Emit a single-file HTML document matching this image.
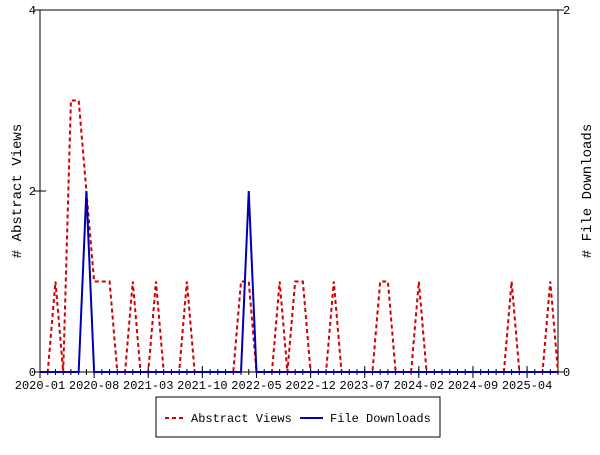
<!DOCTYPE html>
<html><head><meta charset="utf-8"><style>
body{margin:0;background:#fff;width:600px;height:450px;overflow:hidden;font-family:"Liberation Mono",monospace}
</style></head><body>
<svg width="600" height="450" id="c" font-family="Liberation Mono, monospace" font-size="12">
<rect x="0" y="0" width="600" height="450" fill="#fff"/>
<g id="axes"></g><g id="series"></g>
<g>
<rect x="156" y="397" width="284" height="40" fill="#fff" stroke="#000"/>
<line x1="165" y1="418" x2="186" y2="418" stroke="#d00000" stroke-width="2" stroke-dasharray="4,3"/>
<text x="191" y="422">Abstract Views</text>
<line x1="300" y1="418" x2="323" y2="418" stroke="#0000b0" stroke-width="2"/>
<text x="330" y="422">File Downloads</text>
</g>
<text transform="translate(21,191) rotate(-90)" text-anchor="middle" font-size="14"># Abstract Views</text>
<text transform="translate(591,191) rotate(-90)" text-anchor="middle" font-size="14"># File Downloads</text>
</svg>
<script>
const views=[0,0,1,0,3,3,2,1,1,1,0,0,1,0,0,1,0,0,0,1,0,0,0,0,0,0,1,1,0,0,0,1,0,1,1,0,0,0,1,0,0,0,0,0,1,1,0,0,0,1,0,0,0,0,0,0,0,0,0,0,0,1,0,0,0,0,1,0];
const downloads=[0,0,0,0,0,0,1,0,0,0,0,0,0,0,0,0,0,0,0,0,0,0,0,0,0,0,0,1,0,0,0,0,0,0,0,0,0,0,0,0,0,0,0,0,0,0,0,0,0,0,0,0,0,0,0,0,0,0,0,0,0,0,0,0,0,0,0,0];
const xLabels=["2020-01","2020-08","2021-03","2021-10","2022-05","2022-12","2023-07","2024-02","2024-09","2025-04"];
const leftTicks=[0,2,4];
const rightTicks=[0,2];
const X0=40,X1=558,Y0=372,Y1=10,N=views.length;
const xs=i=>X0+i*(X1-X0)/(N-1);
const yl=v=>Y0-v*(Y0-Y1)/4;
const yr=v=>Y0-v*(Y0-Y1)/2;
const NS="http://www.w3.org/2000/svg";
const ax=document.getElementById('axes'),se=document.getElementById('series');
function mk(tag,attrs,parent){const e=document.createElementNS(NS,tag);for(const k in attrs)e.setAttribute(k,attrs[k]);parent.appendChild(e);return e;}
const frame=mk('rect',{x:X0,y:Y1,width:X1-X0,height:Y0-Y1,fill:'none',stroke:'#000'},ax);


for(let i=0;i<N;i++){const t=mk('line',{x1:xs(i),x2:xs(i),y1:Y0-3,y2:Y0+3,stroke:'#000'},ax);

}
xLabels.forEach((l,k)=>{const x=xs(k*7);
const t=mk('line',{x1:x,x2:x,y1:Y0-6,y2:Y0+6,stroke:'#000'},ax);


const tx=mk('text',{x:x,y:Y0+17,'text-anchor':'middle'},ax);tx.textContent=l;

});
leftTicks.forEach(v=>{const y=yl(v);mk('line',{x1:X0-6,x2:X0+6,y1:y,y2:y,stroke:'#000'},ax);
const tx=mk('text',{x:X0-4,y:y+4,'text-anchor':'end'},ax);tx.textContent=v;

});
rightTicks.forEach(v=>{const y=yr(v);mk('line',{x1:X1-6,x2:X1+6,y1:y,y2:y,stroke:'#000'},ax);
const tx=mk('text',{x:X1+5,y:y+4},ax);tx.textContent=v;

});
const pv=mk('polyline',{points:views.map((v,i)=>xs(i)+','+yl(v)).join(' '),fill:'none',stroke:'#d00000','stroke-width':2,'stroke-dasharray':'4,3'},se);


const pd=mk('polyline',{points:downloads.map((v,i)=>xs(i)+','+yr(v)).join(' '),fill:'none',stroke:'#0000b0','stroke-width':2},se);


</script>
</body></html>
